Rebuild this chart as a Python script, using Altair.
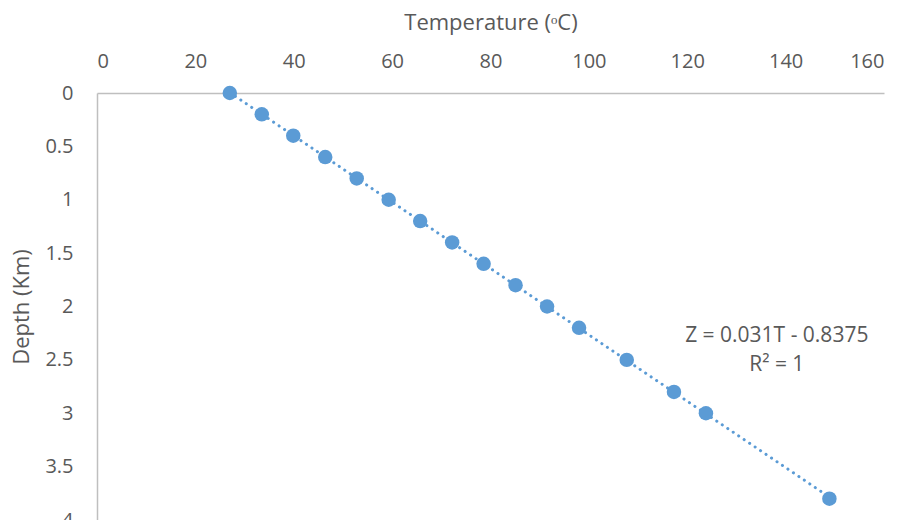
import altair as alt
import pandas as pd

temps = [27.0, 33.5, 39.9, 46.4, 52.8, 59.3, 65.7, 72.2, 78.6, 85.1, 91.5, 98.0, 107.7, 117.3, 123.8, 148.9]
depths = [0.0, 0.2, 0.4, 0.6, 0.8, 1.0, 1.2, 1.4, 1.6, 1.8, 2.0, 2.2, 2.5, 2.8, 3.0, 3.8]

ann_text = ["Z = 0.031T - 0.8375", "R² = 1"]
ann_temp = [138.2, 138.2]
ann_depth = [2.28, 2.55]

df = pd.DataFrame({"temp": temps, "depth": depths})
ann = pd.DataFrame({"t": ann_text, "x": ann_temp, "y": ann_depth})

FONT = "Open Sans"
BLUE = "#5B9BD5"
GRAY = "#595959"

xs = alt.Scale(domain=[0, 160], nice=False)
ys = alt.Scale(domain=[0, 4], reverse=True, nice=False)

base = alt.Chart(df)

points = base.mark_circle(size=210, color=BLUE, opacity=1).encode(
    x=alt.X("temp:Q", scale=xs, title="Temperature (ᵒC)",
            axis=alt.Axis(orient="top", values=list(range(0, 161, 20)), grid=False, ticks=False,
                          domainColor="#BFBFBF", domainWidth=1.5, labelPadding=22,
                          titlePadding=17)),
    y=alt.Y("depth:Q", scale=ys, title="Depth (Km)",
            axis=alt.Axis(values=[0, 0.5, 1, 1.5, 2, 2.5, 3, 3.5, 4], format="~g", grid=False,
                          ticks=False, domainColor="#BFBFBF", domainWidth=1.5, labelPadding=24,
                          titlePadding=11, labelFlush=False)),
)

trend = base.transform_regression("temp", "depth").mark_line(
    color=BLUE, strokeWidth=3, strokeDash=[0.1, 6.5], strokeCap="round"
).encode(x=alt.X("temp:Q", scale=xs), y=alt.Y("depth:Q", scale=ys))

text = alt.Chart(ann).mark_text(font=FONT, fontSize=21, color=GRAY).encode(
    x=alt.X("x:Q", scale=xs), y=alt.Y("y:Q", scale=ys), text="t:N"
)

chart = (trend + points + text).properties(
    width=787, height=427,
    autosize=alt.AutoSizeParams(type="none"),
    padding={"left": 89, "top": 85, "right": 10, "bottom": 0},
).configure_view(stroke=None).configure_axis(
    labelFont=FONT, titleFont=FONT, labelFontSize=20, titleFontSize=22,
    labelColor=GRAY, titleColor=GRAY, titleFontWeight="normal"
)

chart.save("out.html", embed_options={"renderer": "svg", "actions": False})
